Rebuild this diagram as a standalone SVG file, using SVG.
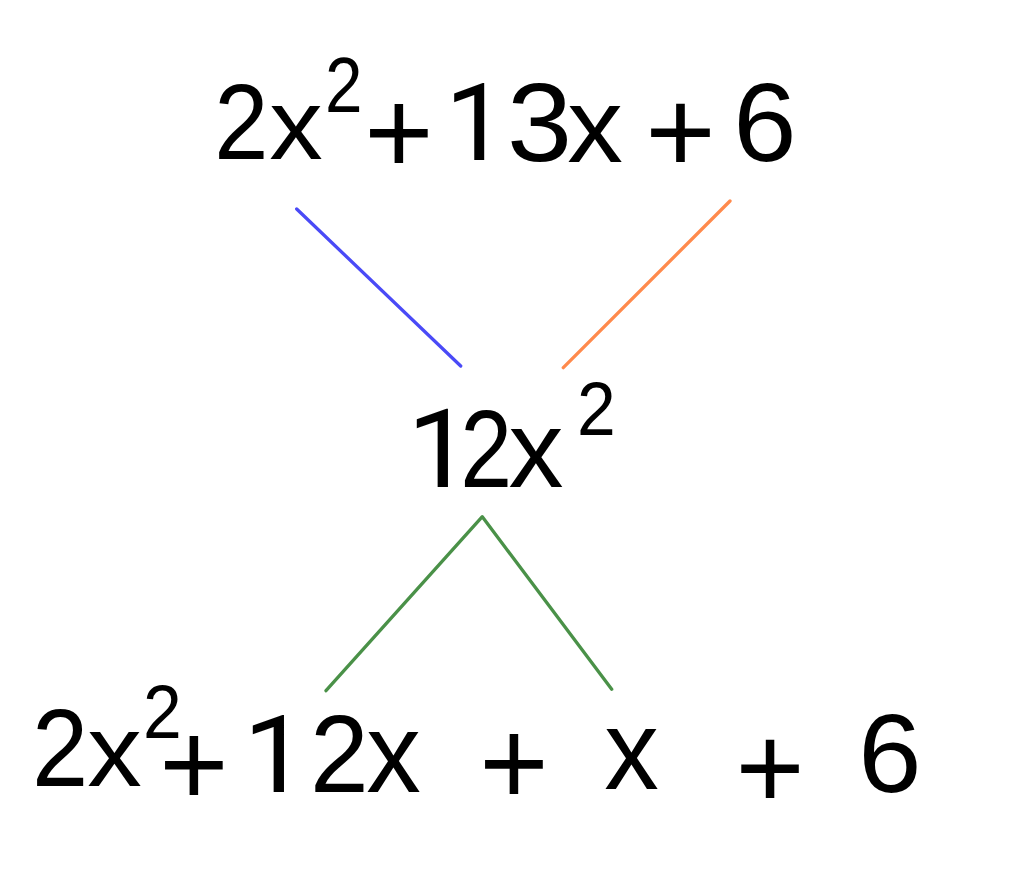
<svg xmlns="http://www.w3.org/2000/svg" width="1024" height="880" viewBox="0 0 1024 880">
<style>
text{font-family:"Liberation Sans",Arial,Helvetica,sans-serif;fill:#000;text-anchor:middle}
text.one{font-family:Roboto,"Liberation Sans",Arial,sans-serif}
.ln{fill:none;stroke-width:3.3;stroke-linecap:round;stroke-linejoin:round}
</style>
<rect width="1024" height="880" fill="#fff"/>
<g id="top-expression">
<text transform="translate(241.2,159) scale(0.91,1)" font-size="107">2</text>
<text transform="translate(296,159) scale(1.07,1)" font-size="100">x</text>
<text transform="translate(343.8,112) scale(0.865,1)" font-size="78">2</text>
<text transform="translate(399,174) scale(0.985,1)" font-size="120.5">+</text>
<text class="one" transform="translate(476,160) scale(1.02,1)" font-size="108">1</text>
<text transform="translate(539.5,161.4) scale(1.06,1)" font-size="110.5">3</text>
<text transform="translate(595,162) scale(1.05,1)" font-size="106">x</text>
<text transform="translate(680.5,171.7) scale(1.02,1)" font-size="118.4">+</text>
<text transform="translate(765,161.4) scale(1.03,1)" font-size="110.5">6</text>
</g>
<g id="middle-product">
<text class="one" transform="translate(439.5,487) scale(1.04,1)" font-size="110">1</text>
<text transform="translate(486.1,487) scale(0.86,1)" font-size="108.5">2</text>
<text transform="translate(536,487) scale(1.0,1)" font-size="110">x</text>
<text transform="translate(596.3,435) scale(0.91,1)" font-size="76.5">2</text>
</g>
<g id="bottom-expression">
<text transform="translate(60.2,786) scale(0.92,1)" font-size="110">2</text>
<text transform="translate(114.5,786) scale(1.07,1)" font-size="102">x</text>
<text transform="translate(162.3,738) scale(0.91,1)" font-size="76.5">2</text>
<text transform="translate(194,806) scale(0.985,1)" font-size="120.5">+</text>
<text class="one" transform="translate(275.5,792) scale(1.06,1)" font-size="108">1</text>
<text transform="translate(339.3,792) scale(0.96,1)" font-size="110">2</text>
<text transform="translate(393.5,792) scale(0.96,1)" font-size="113.7">x</text>
<text transform="translate(514,805.2) scale(0.97,1)" font-size="122.6">+</text>
<text transform="translate(631.5,789) scale(0.96,1)" font-size="113.7">x</text>
<text transform="translate(770,807.7) scale(1.0,1)" font-size="118.4">+</text>
<text transform="translate(890,792.4) scale(1.03,1)" font-size="110.5">6</text>
</g>
<g id="connectors">
<line class="ln" x1="296.7" y1="209" x2="460.7" y2="366" stroke="#4a4af7"/>
<line class="ln" x1="730" y1="201" x2="563.3" y2="367.7" stroke="#ff8a4c"/>
<polyline class="ln" points="326,690.7 482.3,516.7 611.7,689.3" stroke="#4a9148"/>
</g>
</svg>
